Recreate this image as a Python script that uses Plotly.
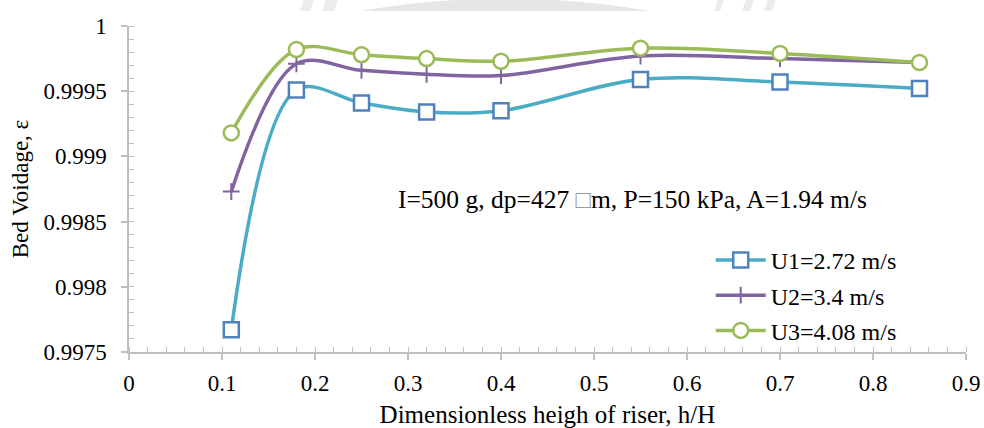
import plotly.graph_objects as go

# Dimensionless riser height h/H at the sampling ports
h_over_H = [0.11, 0.18, 0.25, 0.32, 0.40, 0.55, 0.70, 0.85]

# Bed voidage for the three superficial gas velocities
eps_u1 = [0.99767, 0.99951, 0.99941, 0.99934, 0.99935, 0.99959, 0.99957, 0.99952]
eps_u2 = [0.99873, 0.99971, 0.99966, 0.99963, 0.99962, 0.99977, 0.99975, 0.99972]
eps_u3 = [0.99918, 0.99982, 0.99978, 0.99975, 0.99973, 0.99983, 0.99979, 0.99972]

series_names = ["U1=2.72 m/s", "U2=3.4 m/s", "U3=4.08 m/s"]

x_ticks = [0, 0.1, 0.2, 0.3, 0.4, 0.5, 0.6, 0.7, 0.8, 0.9]
x_tick_text = ["0", "0.1", "0.2", "0.3", "0.4", "0.5", "0.6", "0.7", "0.8", "0.9"]
y_ticks = [0.9975, 0.998, 0.9985, 0.999, 0.9995, 1.0]
y_tick_text = ["0.9975", "0.998", "0.9985", "0.999", "0.9995", "1"]

FONT = "Liberation Serif, Times New Roman, serif"
AXIS_GREY = "#bfbfbf"

# Plot-area geometry in pixels
W, H = 984, 428
L, R, T, B = 129, 18, 26, 76

fig = go.Figure()

styles = [
    dict(line="#4bacc6", marker=dict(symbol="square", size=15, color="white",
                                     line=dict(width=2.5, color="#4f81bd"))),
    dict(line="#8064a2", marker=dict(symbol="cross-thin", size=12, color="#8064a2",
                                     line=dict(width=2, color="#8064a2"))),
    dict(line="#9bbb59", marker=dict(symbol="circle", size=15, color="white",
                                     line=dict(width=2.5, color="#9bbb59"))),
]

for name, ys, st in zip(series_names, [eps_u1, eps_u2, eps_u3], styles):
    fig.add_trace(go.Scatter(
        x=h_over_H, y=ys, name=name, legendgroup=name,
        mode="lines+markers",
        line=dict(color=st["line"], width=3.5, shape="spline", smoothing=1.0),
        marker=st["marker"],
    ))

fig.add_annotation(
    x=0.541, y=0.99867, xref="x", yref="y",
    text='I=500 g, dp=427 <span style="color:#9a9a9a">\u25a1</span>m, P=150 kPa, A=1.94 m/s',
    showarrow=False, font=dict(family=FONT, size=25.5, color="black"),
)

# faint watermark fragments along the top edge
def px(xp):
    return (xp - L) / (W - L - R)

def py(yp):
    return (H - B - yp) / (H - T - B)

fig.add_shape(type="path", xref="paper", yref="paper", layer="below",
              path=f"M {px(360)},{py(11)} Q {px(505)},{py(-14)} {px(650)},{py(11)} Z",
              fillcolor="#e6e6e6", line=dict(width=0))
for (x0, x1) in [(300, 310), (322, 334), (714, 720), (742, 750), (764, 772)]:
    fig.add_shape(type="path", xref="paper", yref="paper", layer="below",
                  path=(f"M {px(x0)},{py(11)} L {px(x0 + 4)},{py(0)} "
                        f"L {px(x1 + 4)},{py(0)} L {px(x1)},{py(11)} Z"),
                  fillcolor="#ececec", line=dict(width=0))

axis_common = dict(
    showgrid=False, zeroline=False, showline=True, linecolor=AXIS_GREY, linewidth=1.5,
    ticks="outside", ticklen=6, tickcolor=AXIS_GREY, tickwidth=1.5,
    tickfont=dict(family=FONT, size=23, color="black"),
    automargin=False,
)

fig.update_xaxes(
    range=[0, 0.9], tickvals=x_ticks, ticktext=x_tick_text,
    minor=dict(ticks="inside", dtick=0.02, ticklen=5, tickcolor=AXIS_GREY, tickwidth=1.2),
    title=dict(text="Dimensionless heigh of riser, h/H", font=dict(family=FONT, size=25, color="black"),
               standoff=12),
    ticklabelstandoff=4,
    **axis_common,
)
fig.update_yaxes(
    range=[0.9975, 1.0], tickvals=y_ticks, ticktext=y_tick_text,
    minor=dict(ticks="inside", dtick=0.0001, ticklen=5, tickcolor=AXIS_GREY, tickwidth=1.2),
    title=dict(text="Bed Voidage, \u03b5", font=dict(family=FONT, size=23, color="black"),
               standoff=8),
    ticklabelstandoff=10,
    **axis_common,
)

fig.update_layout(
    width=W, height=H,
    margin=dict(l=L, r=R, t=T, b=B),
    paper_bgcolor="white", plot_bgcolor="white",
    showlegend=True,
    legend=dict(x=0.695, y=0.35, xanchor="left", yanchor="top",
                font=dict(family=FONT, size=24, color="black"),
                bgcolor="rgba(0,0,0,0)", tracegroupgap=1, itemwidth=50),
)

fig.write_html("out.html")
